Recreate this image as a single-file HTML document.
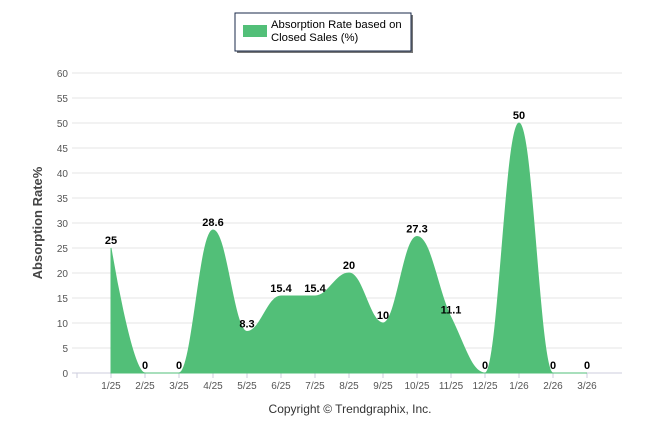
<!DOCTYPE html>
<html><head><meta charset="utf-8"><style>
body{margin:0;background:#fff;font-family:"Liberation Sans",sans-serif;}
svg{display:block}
</style></head><body>
<svg width="646" height="434" xmlns="http://www.w3.org/2000/svg">
<g id="grid"></g>
<g id="yticks" font-size="10" fill="#555" text-anchor="end"></g>
<g id="xticks" font-size="10" fill="#555" text-anchor="middle"></g>
<path id="area" fill="#52bf78" stroke="#52bf78" stroke-width="1"/>
<g id="labels" font-size="11" font-weight="bold" fill="#000" text-anchor="middle"></g>
<text transform="translate(42,223) rotate(-90)" text-anchor="middle" font-size="13" font-weight="bold" fill="#444">Absorption Rate%</text>
<text x="350" y="413" text-anchor="middle" font-size="12" fill="#333">Copyright © Trendgraphix, Inc.</text>
<g>
<rect x="237" y="15" width="176" height="38" fill="#777"/>
<rect x="235" y="13" width="176" height="38" fill="#fff" stroke="#1a2a4a" stroke-width="1"/>
<rect x="243" y="25" width="24" height="12" fill="#52bf78"/>
<text x="271" y="28" font-size="11.3" fill="#000">Absorption Rate based on</text>
<text x="271" y="41" font-size="11.3" fill="#000">Closed Sales (%)</text>
</g>
</svg>
<script>
const categories=["1/25","2/25","3/25","4/25","5/25","6/25","7/25","8/25","9/25","10/25","11/25","12/25","1/26","2/26","3/26"];
const values=[25,0,0,28.6,8.3,15.4,15.4,20,10,27.3,11.1,0,50,0,0];
const valueLabels=["25","0","0","28.6","8.3","15.4","15.4","20","10","27.3","11.1","0","50","0","0"];
const yTicks=[0,5,10,15,20,25,30,35,40,45,50,55,60];
const NS="http://www.w3.org/2000/svg";
const x0=111,dx=34,yB=373,yT=73,yMax=60;
const X=i=>x0+i*dx, Y=v=>yB-(yB-yT)*v/yMax;
function mk(t,a,p){const e=document.createElementNS(NS,t);for(const k in a)e.setAttribute(k,a[k]);p.appendChild(e);return e;}
const grid=document.getElementById('grid'),yt=document.getElementById('yticks'),xt=document.getElementById('xticks'),lab=document.getElementById('labels');
yTicks.forEach(v=>{
 const l=mk('line',{x1:72,x2:622,y1:Y(v),y2:Y(v),stroke:v===0?'#ccd':'#e6e6e6','stroke-width':1},grid);
 
 
 const t=mk('text',{x:68,y:Y(v)+4},yt);t.textContent=v;
 
 
});
mk('line',{x1:77,x2:77,y1:yB,y2:yB+5,stroke:'#ccd'},grid);
categories.forEach((c,i)=>{
 const tk=mk('line',{x1:X(i),x2:X(i),y1:yB,y2:yB+5,stroke:'#ccd'},grid);
 
 
 const t=mk('text',{x:X(i),y:389},xt);t.textContent=c;
 
 
});
const pts=values.map((v,i)=>[X(i),Y(v)]);
function ctrl(i){
 const p=pts[i],a=pts[i-1],b=pts[i+1];
 if(!a||!b)return null;
 const s=1.5,d=2.5;
 let lx=(s*p[0]+a[0])/d,ly=(s*p[1]+a[1])/d,rx=(s*p[0]+b[0])/d,ry=(s*p[1]+b[1])/d;
 if(rx!==lx){const c=((ry-ly)*(rx-p[0]))/(rx-lx)+p[1]-ry;ly+=c;ry+=c;}
 if(ly>Math.max(a[1],p[1])){ly=Math.max(a[1],p[1]);ry=2*p[1]-ly;}
 else if(ly<Math.min(a[1],p[1])){ly=Math.min(a[1],p[1]);ry=2*p[1]-ly;}
 if(ry>Math.max(b[1],p[1])){ry=Math.max(b[1],p[1]);ly=2*p[1]-ry;}
 else if(ry<Math.min(b[1],p[1])){ry=Math.min(b[1],p[1]);ly=2*p[1]-ry;}
 return [lx,ly,rx,ry];
}
const C=pts.map((_,i)=>ctrl(i));
let d=`M${pts[0][0]},${yB} L${pts[0][0]},${pts[0][1]}`;
for(let i=1;i<pts.length;i++){
 const c1=C[i-1]?[C[i-1][2],C[i-1][3]]:pts[i-1];
 const c2=C[i]?[C[i][0],C[i][1]]:pts[i];
 d+=` C${c1[0]},${c1[1]} ${c2[0]},${c2[1]} ${pts[i][0]},${pts[i][1]}`;
}
d+=` L${pts[pts.length-1][0]},${yB} Z`;
document.getElementById('area').setAttribute('d',d);
valueLabels.forEach((s,i)=>{
 const t=mk('text',{x:X(i),y:Y(values[i])-4},lab);t.textContent=s;
 
 
});
</script>
</body></html>
